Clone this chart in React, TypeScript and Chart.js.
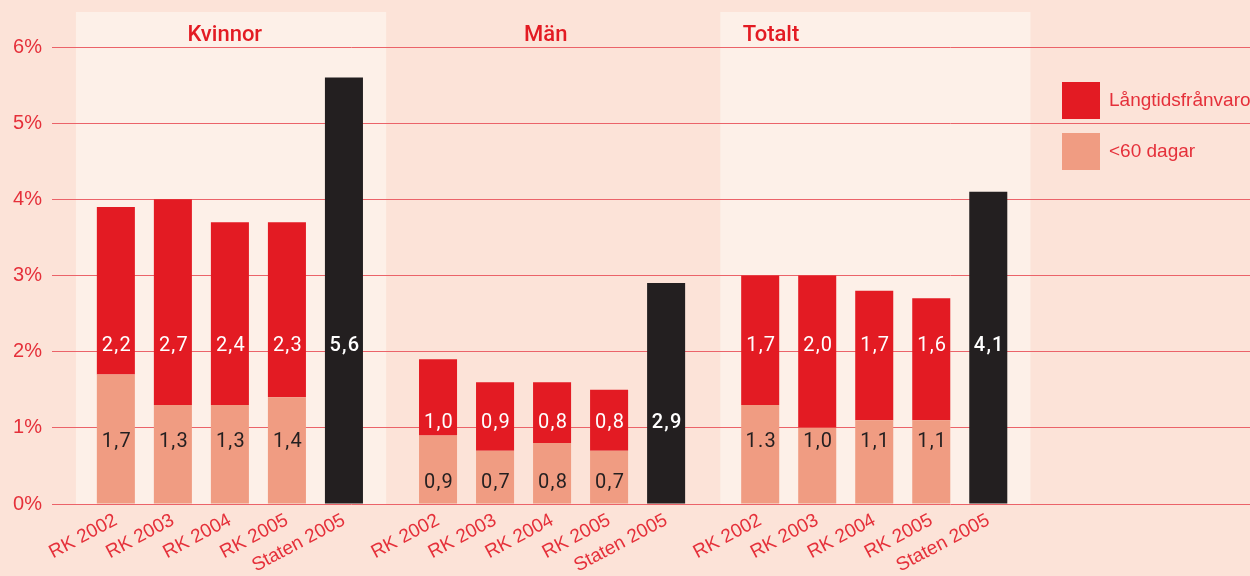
import { useEffect, useRef } from "react";
import { Chart, registerables } from "chart.js";

Chart.register(...registerables);

// ---------- data ----------
const GROUPS = ["Kvinnor", "Män", "Totalt"];
const CATEGORIES = ["RK 2002", "RK 2003", "RK 2004", "RK 2005", "Staten 2005"];
const SERIES_LONG = "Långtidsfrånvaro";
const SERIES_SHORT = "<60 dagar";

const SHORT_KVINNOR = [1.7, 1.3, 1.3, 1.4];
const LONG_KVINNOR = [2.2, 2.7, 2.4, 2.3];
const SHORT_MAN = [0.9, 0.7, 0.8, 0.7];
const LONG_MAN = [1.0, 0.9, 0.8, 0.8];
const SHORT_TOTALT = [1.3, 1.0, 1.1, 1.1];
const LONG_TOTALT = [1.7, 2.0, 1.7, 1.6];
const STATEN_2005 = [5.6, 2.9, 4.1];

// printed texts of the <60 dagar values for "Totalt" (the original uses a point once)
const SHORT_TOTALT_TEXT = ["1.3", "1,0", "1,1", "1,1"];

const Y_TICKS = [0, 1, 2, 3, 4, 5, 6];

// ---------- layout / style ----------
const GROUP_STRIDE = 5.65;
const X_MIN = -1.12;
const X_MAX = 19.89;
const PANEL_GROUPS = [0, 2];
const PANEL_FROM = -0.7;
const PANEL_TO = 4.74;
const TITLE_OFFSET = [1.91, 1.89, 0.19];
const LABEL_TOP_LEVEL = [2.07, 1.07, 2.08];
const LABEL_BOTTOM_LEVEL = [0.81, 0.28, 0.81];

const BG = "#fce3d8";
const PANEL = "#fdf0e8";
const RED = "#e31b23";
const SALMON = "#f09c82";
const BLACK = "#231f20";
const TEXT_RED = "#e5303a";
const GRID = "#eb6369";

const fmt = (v: number) => v.toFixed(1).replace(".", ",");

const SHORT = [SHORT_KVINNOR, SHORT_MAN, SHORT_TOTALT];
const LONG = [LONG_KVINNOR, LONG_MAN, LONG_TOTALT];

const posOf = (g: number, i: number) => g * GROUP_STRIDE + i;

const TICK_POS: number[] = [];
const TICK_LABELS: string[] = [];
GROUPS.forEach((_, g) =>
  CATEGORIES.forEach((c, i) => {
    TICK_POS.push(posOf(g, i));
    TICK_LABELS.push(c);
  })
);

export default function App() {
  const ref = useRef<HTMLCanvasElement | null>(null);

  useEffect(() => {
    document.body.style.margin = "0";
    const canvas = ref.current;
    if (!canvas) return;

    const shortData: { x: number; y: number }[] = [];
    const longData: { x: number; y: number }[] = [];
    const statenData: { x: number; y: number }[] = [];
    GROUPS.forEach((_, g) => {
      SHORT[g].forEach((v, i) => shortData.push({ x: posOf(g, i), y: v }));
      LONG[g].forEach((v, i) => longData.push({ x: posOf(g, i), y: v }));
      statenData.push({ x: posOf(g, 4), y: STATEN_2005[g] });
    });

    const decor = {
      id: "decor",
      beforeDraw(chart: any) {
        const { ctx, chartArea, scales } = chart;
        const xs = scales.x;
        ctx.save();
        ctx.fillStyle = BG;
        ctx.fillRect(0, 0, chart.width, chart.height);
        ctx.fillStyle = PANEL;
        PANEL_GROUPS.forEach((g) => {
          const l = xs.getPixelForValue(posOf(g, 0) + PANEL_FROM);
          const r = xs.getPixelForValue(posOf(g, 0) + PANEL_TO);
          const top = chartArea.top - 35;
          ctx.fillRect(l, top, r - l, chartArea.bottom - top);
        });
        ctx.restore();
      },
      afterDatasetsDraw(chart: any) {
        const { ctx, chartArea, scales } = chart;
        const xs = scales.x;
        const ys = scales.y;
        ctx.save();
        ctx.textAlign = "center";
        ctx.textBaseline = "middle";
        ctx.font = "400 20px Roboto";
        (ctx as any).letterSpacing = "1.2px";
        GROUPS.forEach((_, g) => {
          const yt = ys.getPixelForValue(LABEL_TOP_LEVEL[g]);
          const yb = ys.getPixelForValue(LABEL_BOTTOM_LEVEL[g]);
          SHORT[g].forEach((v, i) => {
            const x = xs.getPixelForValue(posOf(g, i));
            ctx.fillStyle = BLACK;
            ctx.fillText(g === 2 ? SHORT_TOTALT_TEXT[i] : fmt(v), x + 1, yb);
            ctx.fillStyle = "#ffffff";
            ctx.fillText(fmt(LONG[g][i]), x + 1, yt);
          });
          ctx.fillStyle = "#ffffff";
          ctx.font = "500 20px Roboto";
          ctx.fillText(fmt(STATEN_2005[g]), xs.getPixelForValue(posOf(g, 4)) + 1, yt);
          ctx.font = "400 20px Roboto";
        });
        (ctx as any).letterSpacing = "0px";

        // group titles
        ctx.fillStyle = RED;
        ctx.font = "500 22px Roboto";
        GROUPS.forEach((name, g) => {
          ctx.fillText(name, xs.getPixelForValue(posOf(g, 0) + TITLE_OFFSET[g]), chartArea.top - 12);
        });

        // legend
        ctx.textAlign = "left";
        ctx.font = "19px 'Liberation Sans'";
        const lx = 1062;
        const items = [
          { c: RED, t: SERIES_LONG, y: 82 },
          { c: SALMON, t: SERIES_SHORT, y: 133 },
        ];
        items.forEach((it) => {
          ctx.fillStyle = it.c;
          ctx.fillRect(lx, it.y, 38, 37);
          ctx.fillStyle = TEXT_RED;
          ctx.fillText(it.t, lx + 47, it.y + 19);
        });
        ctx.restore();
      },
    };

    const chart = new Chart(canvas, {
      type: "bar",
      data: {
        datasets: [
          { label: SERIES_SHORT, data: shortData, backgroundColor: SALMON, borderWidth: 0 },
          { label: SERIES_LONG, data: longData, backgroundColor: RED, borderWidth: 0 },
          { label: "Staten 2005", data: statenData, backgroundColor: BLACK, borderWidth: 0 },
        ],
      },
      options: {
        animation: false,
        responsive: false,
        layout: { padding: { top: 47, right: 0, left: 0, bottom: 0 } },
        datasets: { bar: { categoryPercentage: 1, barPercentage: 0.667 } },
        plugins: { legend: { display: false }, tooltip: { enabled: false }, title: { display: false } },
        scales: {
          x: {
            type: "linear",
            min: X_MIN,
            max: X_MAX,
            offset: false,
            stacked: true,
            grid: { display: false },
            border: { display: false },
            afterBuildTicks: (axis: any) => {
              axis.ticks = TICK_POS.map((value) => ({ value }));
            },
            afterFit: (axis: any) => {
              axis.height = 72;
            },
            ticks: {
              autoSkip: false,
              maxRotation: 28,
              minRotation: 28,
              padding: -3,
              color: TEXT_RED,
              font: { family: "'Liberation Sans'", size: 19 },
              callback: (_v: any, i: number) => TICK_LABELS[i],
            },
          },
          y: {
            min: 0,
            max: 6,
            stacked: true,
            border: { display: false },
            grid: { color: GRID, lineWidth: 1, drawTicks: false },
            afterBuildTicks: (axis: any) => {
              axis.ticks = Y_TICKS.map((value) => ({ value }));
            },
            afterFit: (axis: any) => {
              axis.width = 52;
            },
            ticks: {
              padding: 10,
              color: TEXT_RED,
              font: { family: "'Liberation Sans'", size: 20 },
              callback: (v: any) => `${v}%`,
            },
          },
        },
      },
      plugins: [decor],
    });

    return () => chart.destroy();
  }, []);

  return (
    <div style={{ width: 1250, height: 576 }}>
      <canvas ref={ref} width={1250} height={576} />
    </div>
  );
}
